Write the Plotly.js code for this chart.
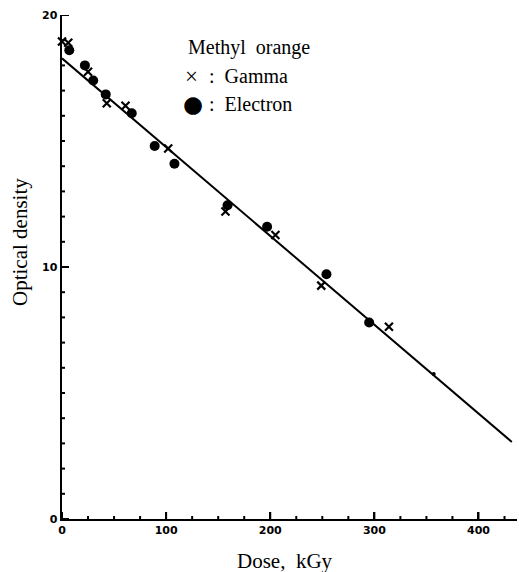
<!DOCTYPE html>
<html>
<head>
<meta charset="utf-8">
<script src="https://cdn.plot.ly/plotly-3.0.1.min.js"></script>
<style>html,body{margin:0;padding:0;background:#fff;}#chart{width:519px;height:572px;}</style>
</head>
<body>
<div id="chart"></div>
<script>
// Data
const gammaDose = [0, 6, 25, 43, 61, 102, 157, 205, 249, 314];
const gammaOD   = [18.95, 18.9, 17.75, 16.5, 16.4, 14.7, 12.2, 11.27, 9.26, 7.63];
const electronDose = [7, 22, 30, 42, 67, 89, 108, 159, 197, 254, 295];
const electronOD   = [18.6, 18.0, 17.4, 16.85, 16.1, 14.8, 14.1, 12.45, 11.6, 9.71, 7.8];
const extraDose = [357];
const extraOD   = [5.75];
const fitDose = [0, 432];
const fitOD   = [18.28, 3.06];
const xTicks = [0, 100, 200, 300, 400];
const yTicks = [0, 10, 20];
const xMinorTicks = [25, 50, 75, 125, 150, 175, 225, 250, 275, 325, 350, 375, 425];
const yMinorTicks = [1, 2, 3, 4, 5, 6, 7, 8, 9, 11, 12, 13, 14, 15, 16, 17, 18, 19];

const serif = '"Liberation Serif", serif';
const tickFont = {family: 'DejaVu Sans', size: 11, color: '#000', weight: 900};

const traces = [
  {x: gammaDose, y: gammaOD, mode: 'markers', cliponaxis: false,
   marker: {symbol: 'x-thin', size: 8, color: '#000', line: {color: '#000', width: 2.2}}},
  {x: electronDose, y: electronOD, mode: 'markers', cliponaxis: false,
   marker: {symbol: 'circle', size: 10, color: '#000'}},
  {x: extraDose, y: extraOD, mode: 'markers', cliponaxis: false,
   marker: {symbol: 'circle', size: 4, color: '#000'}},
  {x: fitDose, y: fitOD, mode: 'lines', line: {color: '#000', width: 2}, cliponaxis: false}
];

// Tick marks as pixel-sized shapes anchored at axis values
const tickLine = {color: '#000', width: 2};
const shapes = [];
function xTick(v, len) {
  shapes.push({type: 'line', xref: 'x', yref: 'y', ysizemode: 'pixel', yanchor: 0,
    x0: v, x1: v, y0: 0, y1: len, line: tickLine, layer: 'above'});
}
function yTick(v, len) {
  shapes.push({type: 'line', xref: 'x', yref: 'y', xsizemode: 'pixel', xanchor: 0,
    x0: 0, x1: len, y0: v, y1: v, line: tickLine, layer: 'above'});
}
xTicks.forEach(v => xTick(v, 7));
xMinorTicks.forEach(v => xTick(v, 3));
yTicks.forEach(v => yTick(v, 7));
yMinorTicks.forEach(v => yTick(v, 3));

const layout = {
  width: 519, height: 572,
  margin: {l: 62, r: 2, t: 15, b: 53, pad: 0},
  showlegend: false,
  xaxis: {
    range: [0, 437], tickmode: 'array', tickvals: xTicks,
    ticks: 'inside', ticklen: 7, tickwidth: 2, tickcolor: '#000',
    showline: true, linewidth: 2, linecolor: '#000', showgrid: false, zeroline: false,
    tickfont: tickFont
  },
  yaxis: {
    range: [0, 20], tickmode: 'array', tickvals: yTicks,
    ticks: 'inside', ticklen: 7, tickwidth: 2, tickcolor: '#000',
    showline: true, linewidth: 2.5, linecolor: '#000', showgrid: false, zeroline: false,
    tickfont: tickFont
  },
  shapes: shapes,
  annotations: [
    {text: 'Optical density', xref: 'paper', yref: 'paper', x: (20 - 62) / 455, y: (519 - 242) / 504,
     textangle: -90, showarrow: false, xanchor: 'center', yanchor: 'middle',
     font: {family: serif, size: 21, color: '#000'}},
    {text: 'Dose,  kGy', xref: 'paper', yref: 'paper', x: (285 - 62) / 455, y: (519 - 561) / 504,
     showarrow: false, xanchor: 'center', yanchor: 'middle',
     font: {family: serif, size: 21, color: '#000'}},
    {text: 'Methyl  orange', xref: 'paper', yref: 'paper', x: (186 - 62) / 455, y: (519 - 47) / 504,
     showarrow: false, xanchor: 'left', yanchor: 'middle',
     font: {family: serif, size: 20, color: '#000'}},
    {text: '×', xref: 'paper', yref: 'paper', x: (183 - 62) / 455, y: (519 - 76) / 504,
     showarrow: false, xanchor: 'left', yanchor: 'middle',
     font: {family: serif, size: 23, color: '#000'}},
    {text: ':  Gamma', xref: 'paper', yref: 'paper', x: (207 - 62) / 455, y: (519 - 76) / 504,
     showarrow: false, xanchor: 'left', yanchor: 'middle',
     font: {family: serif, size: 20, color: '#000'}},
    {text: '●', xref: 'paper', yref: 'paper', x: (181 - 62) / 455, y: (519 - 104) / 504,
     showarrow: false, xanchor: 'left', yanchor: 'middle',
     font: {family: 'DejaVu Sans', size: 23, color: '#000'}},
    {text: ':  Electron', xref: 'paper', yref: 'paper', x: (207 - 62) / 455, y: (519 - 104) / 504,
     showarrow: false, xanchor: 'left', yanchor: 'middle',
     font: {family: serif, size: 20, color: '#000'}}
  ]
};

Plotly.newPlot('chart', traces, layout, {staticPlot: true});
</script>
</body>
</html>
